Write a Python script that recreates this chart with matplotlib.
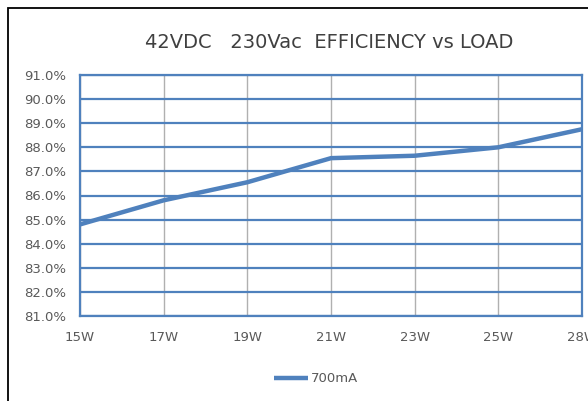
import matplotlib
matplotlib.use('Agg')
import matplotlib.pyplot as plt
from matplotlib.patches import Rectangle
from matplotlib.ticker import FuncFormatter

# chart data
loads = ['15W', '17W', '19W', '21W', '23W', '25W', '28W']
eff_700mA = [84.8, 85.8, 86.55, 87.55, 87.65, 88.0, 88.75]
y_ticks = [81, 82, 83, 84, 85, 86, 87, 88, 89, 90, 91]

blue = '#4F81BD'
text_grey = '#595959'

plt.rcParams['font.family'] = ['DejaVu Sans']

fig = plt.figure(figsize=(5.88, 4.01), dpi=100)
ax = fig.add_axes([80 / 588, 1 - 316 / 401, 502 / 588, 241 / 401])

# outer border of the chart area
fig.patches.append(Rectangle((8 / 588, -0.1), 1.2, (401 - 8) / 401 + 0.1,
                             transform=fig.transFigure, fill=False,
                             edgecolor='black', linewidth=1.3))

x = list(range(len(loads)))
ax.plot(x, eff_700mA, color=blue, linewidth=3.2, solid_capstyle='butt', label='700mA')

ax.set_xlim(0, len(loads) - 1)
ax.set_ylim(81, 91)
ax.set_yticks(y_ticks)
ax.yaxis.set_major_formatter(FuncFormatter(lambda v, p: '%.1f%%' % v))
ax.set_xticks(x)
ax.set_xticklabels(loads)

ax.grid(axis='y', color=blue, linewidth=1.6)
ax.grid(axis='x', color='#B0B0B0', linewidth=1)
ax.set_axisbelow(True)
for s in ax.spines.values():
    s.set_color(blue)
    s.set_linewidth(1.6)

ax.tick_params(length=0, labelsize=9.5, colors=text_grey)
ax.tick_params(axis='x', pad=11)
ax.tick_params(axis='y', pad=10)

fig.text(329 / 588, 1 - 43 / 401, '42VDC   230Vac  EFFICIENCY vs LOAD',
         ha='center', va='center', fontsize=14, color='#404040')

fig.legend(loc='center', bbox_to_anchor=(316 / 588, 1 - 379 / 401), frameon=False,
           fontsize=9.5, handlelength=2.6, handletextpad=0.2, labelcolor=text_grey)

fig.savefig('out.png', dpi=100)
